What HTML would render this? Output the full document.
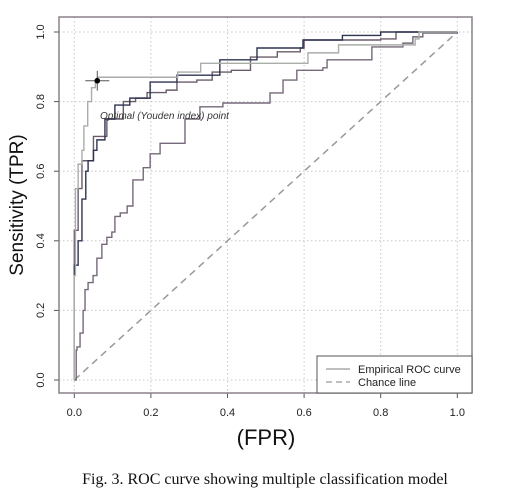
<!DOCTYPE html>
<html><head><meta charset="utf-8"><style>
body{margin:0;background:#fff;}
svg{display:block;font-family:"Liberation Sans",sans-serif;}
</style></head><body>
<svg width="529" height="495" viewBox="0 0 529 495">
<g id="grid"></g>
<g id="axes"></g>
<g id="curves"></g>
<g id="marker"></g>
<text x="100" y="119" font-size="10" font-style="italic" fill="#333">Optimal (Youden index) point</text>
<text transform="translate(23,205) rotate(-90)" text-anchor="middle" font-size="19" fill="#111">Sensitivity (TPR)</text>
<text x="266" y="445" text-anchor="middle" font-size="22" fill="#111">(FPR)</text>
<text x="265" y="484" text-anchor="middle" font-size="16" font-family="Liberation Serif, serif" fill="#111">Fig. 3. ROC curve showing multiple classification model</text>
<g>
<rect x="317" y="356" width="155" height="37" fill="#fff" stroke="#555" stroke-width="1"/>
<line x1="326" y1="369" x2="350" y2="369" stroke="#aaa" stroke-width="1.5"/>
<text x="358" y="373" font-size="11" fill="#222">Empirical ROC curve</text>
<line x1="326" y1="382" x2="350" y2="382" stroke="#aaa" stroke-width="1.5" stroke-dasharray="6,4"/>
<text x="358" y="386" font-size="11" fill="#222">Chance line</text>
</g>
</svg>
<script>
const ticks=[0,0.2,0.4,0.6,0.8,1.0];
const tickLabels=["0.0","0.2","0.4","0.6","0.8","1.0"];
const greyFPR=[0,0,0.003,0.01,0.02,0.025,0.035,0.045,0.055,0.06,0.27,0.33,0.61,0.69,0.74,0.89,0.9,1];
const greyTPR=[0,0.3,0.55,0.62,0.66,0.73,0.8,0.84,0.86,0.87,0.885,0.91,0.94,0.963,0.963,0.98,1,1];
const navyFPR=[0,0,0.01,0.01,0.02,0.03,0.036,0.05,0.059,0.08,0.106,0.145,0.198,0.268,0.38,0.477,0.597,0.70,0.8,1];
const navyTPR=[0,0.33,0.33,0.4,0.52,0.6,0.63,0.66,0.69,0.75,0.79,0.81,0.856,0.876,0.92,0.954,0.977,0.99,1,1];
const mauveFPR=[0,0,0.01,0.02,0.05,0.085,0.128,0.16,0.19,0.24,0.268,0.32,0.36,0.41,0.46,0.53,0.59,0.6,0.8,0.84,1];
const mauveTPR=[0,0.43,0.55,0.63,0.7,0.75,0.8,0.81,0.826,0.833,0.856,0.862,0.885,0.89,0.928,0.943,0.954,0.977,0.98,1,1];
const lowFPR=[0,0.005,0.007,0.015,0.023,0.028,0.036,0.049,0.059,0.072,0.085,0.098,0.106,0.12,0.138,0.153,0.18,0.198,0.224,0.289,0.328,0.388,0.511,0.545,0.581,0.649,0.66,0.777,0.858,0.884,0.91,1];
const lowTPR=[0,0.086,0.095,0.135,0.2,0.26,0.28,0.3,0.35,0.39,0.41,0.425,0.47,0.48,0.5,0.575,0.61,0.65,0.68,0.75,0.785,0.796,0.825,0.862,0.89,0.897,0.92,0.957,0.968,0.986,0.997,1];
const optFPR=[0.06], optTPR=[0.86];

const NS="http://www.w3.org/2000/svg";
const X=v=>74.3+v*383, Y=v=>380-v*348;
function mk(p,t,a){const e=document.createElementNS(NS,t);for(const k in a)e.setAttribute(k,a[k]);p.appendChild(e);return e;}
const grid=document.getElementById('grid'),axes=document.getElementById('axes'),cv=document.getElementById('curves'),mkG=document.getElementById('marker');
ticks.forEach((t,i)=>{
 let g1=mk(grid,'line',{x1:X(t),x2:X(t),y1:17,y2:393,stroke:'#c8c8c8','stroke-dasharray':'1.5,2.5'});
 
 
 let g2=mk(grid,'line',{x1:59,x2:472,y1:Y(t),y2:Y(t),stroke:'#c8c8c8','stroke-dasharray':'1.5,2.5'});
 
 
 let tx=mk(axes,'line',{x1:X(t),x2:X(t),y1:393,y2:398,stroke:'#555'});
 
 
 let ty=mk(axes,'line',{x1:54,x2:59,y1:Y(t),y2:Y(t),stroke:'#555'});
 
 
 let lx=mk(axes,'text',{x:X(t),y:416,'text-anchor':'middle','font-size':'11',fill:'#222'});
 lx.textContent=tickLabels[i];
 
 
 let ly=mk(axes,'text',{transform:`translate(44,${Y(t)}) rotate(-90)`,'text-anchor':'middle','font-size':'11',fill:'#222'});
 ly.textContent=tickLabels[i];
 
 
});
let box=mk(axes,'rect',{x:59,y:17,width:413,height:376,fill:'none',stroke:'#8a808a','stroke-width':1.5});


let ch=mk(cv,'line',{x1:X(0),y1:Y(0),x2:X(1),y2:Y(1),stroke:'#999','stroke-width':1.5,'stroke-dasharray':'7,5'});


function step(fx,fy){let d=`M${X(fx[0])},${Y(fy[0])}`;for(let i=1;i<fx.length;i++)d+=`H${X(fx[i])}V${Y(fy[i])}`;return d;}
const series=[[lowFPR,lowTPR,'#76687a','roc-curve-model-4'],[mauveFPR,mauveTPR,'#6a5c6c','roc-curve-model-3'],[navyFPR,navyTPR,'#2f3550','roc-curve-model-2'],[greyFPR,greyTPR,'#a9aea9','roc-curve-model-1']];
series.forEach(s=>{
 let p=mk(cv,'path',{d:step(s[0],s[1]),fill:'none',stroke:s[2],'stroke-width':1.4});
 
 
});
const ox=X(optFPR[0]),oy=Y(optTPR[0]);
let eh=mk(mkG,'line',{x1:ox-12,x2:ox+12,y1:oy,y2:oy,stroke:'#555'});


let ev=mk(mkG,'line',{x1:ox,x2:ox,y1:oy-10,y2:oy+10,stroke:'#555'});


let dot=mk(mkG,'circle',{cx:ox,cy:oy,r:2.8,fill:'#000'});


</script>
</body></html>
